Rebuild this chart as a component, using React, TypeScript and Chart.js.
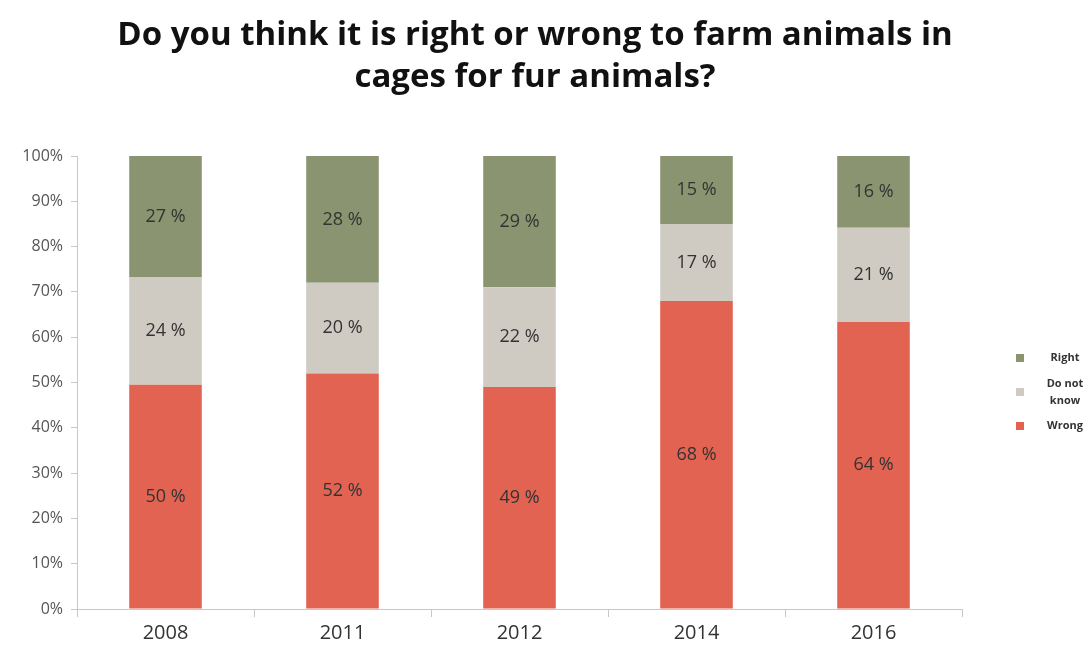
import React, { useEffect, useRef } from "react";
import { Chart, registerables } from "chart.js";

Chart.register(...registerables);

const titleLines = [
  "Do you think it is right or wrong to farm animals in",
  "cages for fur animals?",
];
const years = ["2008", "2011", "2012", "2014", "2016"];
const wrong = [50, 52, 49, 68, 64];
const doNotKnow = [24, 20, 22, 17, 21];
const right = [27, 28, 29, 15, 16];
const seriesNames = ["Wrong", "Do not know", "Right"];
const legendLabels: string[][] = [["Right"], ["Do not", "know"], ["Wrong"]];
const colors = ["#e26352", "#cfcbc3", "#8a9470"];
const yTicks = [0, 10, 20, 30, 40, 50, 60, 70, 80, 90, 100];

const rawSeries = [wrong, doNotKnow, right];
const totals = years.map((_, i) => wrong[i] + doNotKnow[i] + right[i]);

const titlePlugin = {
  id: "customTitle",
  afterDraw(chart: any) {
    const ctx = chart.ctx;
    ctx.save();
    ctx.font = "bold 33px 'Open Sans'";
    ctx.fillStyle = "#111111";
    ctx.textAlign = "center";
    ctx.textBaseline = "middle";
    ctx.fillText(titleLines[0], 535, 36);
    ctx.fillText(titleLines[1], 535, 78);
    ctx.restore();
  },
};

const labelPlugin = {
  id: "segLabels",
  afterDatasetsDraw(chart: any) {
    const ctx = chart.ctx;
    ctx.save();
    ctx.font = "18px 'Open Sans'";
    ctx.fillStyle = "#333333";
    ctx.textAlign = "center";
    ctx.textBaseline = "middle";
    chart.data.datasets.forEach((ds: any, di: number) => {
      const meta = chart.getDatasetMeta(di);
      meta.data.forEach((bar: any, i: number) => {
        const y = (bar.y + bar.base) / 2;
        ctx.fillText(rawSeries[di][i] + " %", bar.x, y);
      });
    });
    ctx.restore();
  },
};

const legendPlugin = {
  id: "customLegend",
  afterDraw(chart: any) {
    const ctx = chart.ctx;
    ctx.save();
    ctx.font = "bold 11px 'Open Sans'";
    ctx.textAlign = "center";
    ctx.textBaseline = "middle";
    const order = [2, 1, 0];
    const centers = [358, 392, 426];
    order.forEach((di, k) => {
      const cy = centers[k];
      ctx.fillStyle = colors[di];
      ctx.fillRect(1016, cy - 4, 8, 8);
      ctx.fillStyle = "#333333";
      const lines = legendLabels[k];
      const lh = 17;
      lines.forEach((ln, j) => {
        ctx.fillText(ln, 1065, cy + (j - (lines.length - 1) / 2) * lh);
      });
    });
    ctx.restore();
  },
};

export default function App() {
  const ref = useRef<HTMLCanvasElement | null>(null);
  useEffect(() => {
    if (!ref.current) return;
    const chart = new Chart(ref.current, {
      type: "bar",
      data: {
        labels: years,
        datasets: rawSeries.map((arr, di) => ({
          label: seriesNames[di],
          data: arr.map((v, i) => (v / totals[i]) * 100),
          backgroundColor: colors[di],
          borderWidth: 0,
          barPercentage: 0.41,
          categoryPercentage: 1,
        })),
      },
      options: {
        responsive: true,
        maintainAspectRatio: false,
        animation: false,
        layout: { padding: { left: 0, right: 130, top: 156, bottom: 0 } },
        plugins: {
          legend: { display: false },
          tooltip: { enabled: false },
          title: { display: false },
        },
        scales: {
          x: {
            stacked: true,
            grid: { display: true, drawOnChartArea: false, drawTicks: true, tickLength: 8, color: "#c8c8c8", offset: true },
            border: { display: true, color: "#c8c8c8" },
            ticks: { font: { family: "'Open Sans'", size: 20 }, color: "#333333", padding: 4 },
            afterFit: (s: any) => { s.height = 38; },
          },
          y: {
            stacked: true,
            min: 0,
            max: 100,
            afterBuildTicks: (s: any) => { s.ticks = yTicks.map((v) => ({ value: v })); },
            grid: { display: true, drawOnChartArea: false, drawTicks: true, tickLength: 6, color: "#c8c8c8" },
            border: { display: true, color: "#c8c8c8" },
            ticks: {
              font: { family: "'Open Sans'", size: 16 },
              color: "#555555",
              padding: 8,
              callback: (v: any) => v + "%",
            },
            afterFit: (s: any) => { s.width = 77; },
          },
        },
      },
      plugins: [labelPlugin, legendPlugin, titlePlugin],
    });
    return () => chart.destroy();
  }, []);
  return (
    <div style={{ position: "fixed", left: 0, top: 0, width: 1092, height: 647, background: "#fff" }}>
      <canvas ref={ref} />
    </div>
  );
}
